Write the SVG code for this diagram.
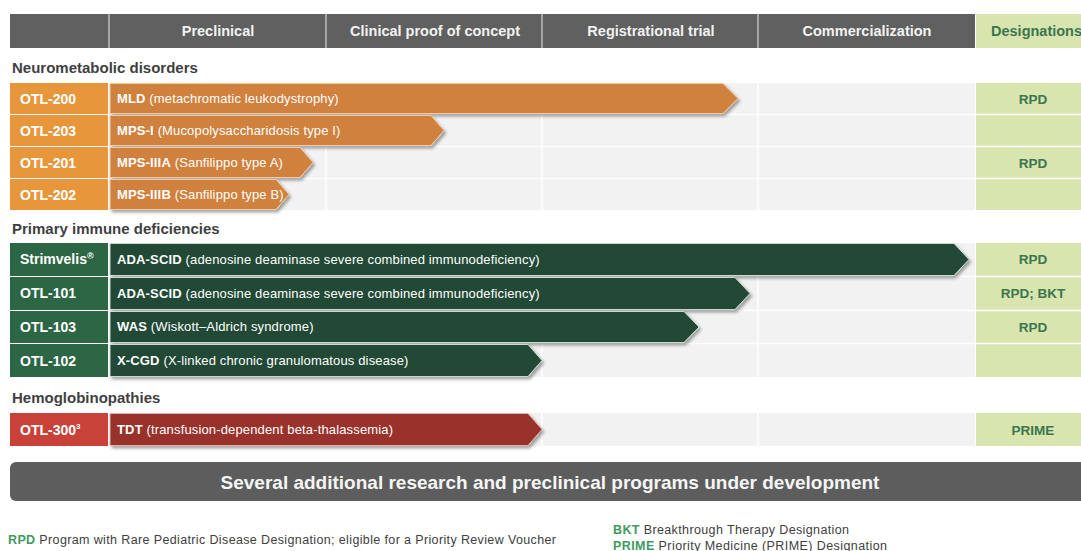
<svg xmlns="http://www.w3.org/2000/svg" width="1081" height="551" viewBox="0 0 1081 551">
<defs>
<style>
text{font-family:"Liberation Sans",Arial,sans-serif}
.hd{font-size:14.5px;font-weight:bold;fill:#f2f2f2;text-anchor:middle}
.sec{font-size:15px;font-weight:bold;fill:#3f3f3f}
.lbl{font-size:14px;font-weight:bold;fill:#ffffff}
.arr{font-size:13px;fill:#ffffff;letter-spacing:0.15px}
.arr .b{font-weight:bold}
.des{font-size:13.5px;font-weight:bold;fill:#3b7650;text-anchor:middle}
.foot{font-size:12.5px;fill:#404040}
.foot .g{fill:#3f9a5e;font-weight:bold}
.cell{fill:#f1f2f1}
.dcell{fill:#d8e5ae}
.vl{stroke:#ffffff;stroke-width:1.5}
.o-box{fill:#e8963b}
.o-arr{fill:#d0813e;stroke:#f3c9a2;stroke-width:1}
.g-box{fill:#2c6644}
.g-arr{fill:#214a35;stroke:#c9d9cd;stroke-width:1}
.r-box{fill:#c9423a}
.r-arr{fill:#993029;stroke:#e4b1ac;stroke-width:1}
</style>
<filter id="sh" x="-5%" y="-20%" width="110%" height="160%">
<feDropShadow dx="2" dy="2.5" stdDeviation="1.5" flood-color="#000" flood-opacity="0.35"/>
</filter>
</defs>
<rect width="1081" height="551" fill="#ffffff"/>

<!-- header -->
<g id="header">
<rect x="10" y="14" width="965" height="34" fill="#606060"/>
<rect x="976" y="14" width="105" height="34" fill="#d8e5ae"/>
<line x1="109" y1="14" x2="109" y2="48" class="vl" stroke-opacity="0.6"/>
<line x1="326" y1="14" x2="326" y2="48" class="vl" stroke-opacity="0.6"/>
<line x1="542" y1="14" x2="542" y2="48" class="vl" stroke-opacity="0.6"/>
<line x1="758" y1="14" x2="758" y2="48" class="vl" stroke-opacity="0.6"/>
<text x="218" y="36" class="hd">Preclinical</text>
<text x="435" y="36" class="hd">Clinical proof of concept</text>
<text x="651" y="36" class="hd">Registrational trial</text>
<text x="867" y="36" class="hd">Commercialization</text>
<text x="991" y="36" class="hd" style="fill:#3b7650;text-anchor:start">Designations</text>
</g>

<!-- grid backgrounds -->
<g id="grid">
<rect x="110" y="83" width="865" height="127" class="cell"/>
<rect x="976" y="83" width="105" height="127" class="dcell"/>
<rect x="110" y="243" width="865" height="134" class="cell"/>
<rect x="976" y="243" width="105" height="134" class="dcell"/>
<rect x="110" y="413" width="865" height="33" class="cell"/>
<rect x="976" y="413" width="105" height="33" class="dcell"/>
<g stroke="#ffffff" stroke-width="1.5">
<line x1="326" y1="83" x2="326" y2="210"/><line x1="542" y1="83" x2="542" y2="210"/><line x1="758" y1="83" x2="758" y2="210"/>
<line x1="326" y1="243" x2="326" y2="377"/><line x1="542" y1="243" x2="542" y2="377"/><line x1="758" y1="243" x2="758" y2="377"/>
<line x1="326" y1="413" x2="326" y2="446"/><line x1="542" y1="413" x2="542" y2="446"/><line x1="758" y1="413" x2="758" y2="446"/>
<line x1="10" y1="114.5" x2="1081" y2="114.5"/><line x1="10" y1="146.5" x2="1081" y2="146.5"/><line x1="10" y1="178.5" x2="1081" y2="178.5"/>
<line x1="10" y1="276.5" x2="1081" y2="276.5"/><line x1="10" y1="310.5" x2="1081" y2="310.5"/><line x1="10" y1="343.5" x2="1081" y2="343.5"/>
</g>
</g>

<text x="12" y="73" class="sec">Neurometabolic disorders</text>
<text x="12" y="234" class="sec">Primary immune deficiencies</text>
<text x="12" y="403" class="sec">Hemoglobinopathies</text>

<!-- Neurometabolic rows -->
<g id="otl200">
<rect x="10" y="83" width="98" height="31" class="o-box"/>
<text x="20" y="104" class="lbl">OTL-200</text>
<path d="M110,83.5 H723 L738,98.5 L723,113.5 H110 Z" class="o-arr" filter="url(#sh)"/>
<text x="117" y="103" class="arr"><tspan class="b">MLD</tspan> (metachromatic leukodystrophy)</text>
<text x="1033" y="104" class="des">RPD</text>
</g>
<g id="otl203">
<rect x="10" y="115" width="98" height="31" class="o-box"/>
<text x="20" y="136" class="lbl">OTL-203</text>
<path d="M110,115.5 H431 L444,130.5 L431,145.5 H110 Z" class="o-arr" filter="url(#sh)"/>
<text x="117" y="135" class="arr"><tspan class="b">MPS-I</tspan> (Mucopolysaccharidosis type I)</text>
</g>
<g id="otl201">
<rect x="10" y="147" width="98" height="31" class="o-box"/>
<text x="20" y="168" class="lbl">OTL-201</text>
<path d="M110,147.5 H300 L313,162.5 L300,177.5 H110 Z" class="o-arr" filter="url(#sh)"/>
<text x="117" y="167" class="arr"><tspan class="b">MPS-IIIA</tspan> (Sanfilippo type A)</text>
<text x="1033" y="168" class="des">RPD</text>
</g>
<g id="otl202">
<rect x="10" y="179" width="98" height="31" class="o-box"/>
<text x="20" y="200" class="lbl">OTL-202</text>
<path d="M110,179.5 H276 L289,194.5 L276,209.5 H110 Z" class="o-arr" filter="url(#sh)"/>
<text x="117" y="199" class="arr"><tspan class="b">MPS-IIIB</tspan> (Sanfilippo type B)</text>
</g>

<!-- Primary immune rows -->
<g id="strimvelis">
<rect x="10" y="243" width="98" height="33" class="g-box"/>
<text x="20" y="264" class="lbl">Strimvelis<tspan font-size="9" dy="-5">®</tspan></text>
<path d="M110,243.5 H954 L969,259.5 L954,275.5 H110 Z" class="g-arr" filter="url(#sh)"/>
<text x="117" y="264" class="arr"><tspan class="b">ADA-SCID</tspan> (adenosine deaminase severe combined immunodeficiency)</text>
<text x="1033" y="264" class="des">RPD</text>
</g>
<g id="otl101">
<rect x="10" y="277" width="98" height="33" class="g-box"/>
<text x="20" y="298" class="lbl">OTL-101</text>
<path d="M110,277.5 H735 L750,293.5 L735,309.5 H110 Z" class="g-arr" filter="url(#sh)"/>
<text x="117" y="298" class="arr"><tspan class="b">ADA-SCID</tspan> (adenosine deaminase severe combined immunodeficiency)</text>
<text x="1033" y="298" class="des">RPD; BKT</text>
</g>
<g id="otl103">
<rect x="10" y="311" width="98" height="32" class="g-box"/>
<text x="20" y="332" class="lbl">OTL-103</text>
<path d="M110,311.5 H684 L699,327 L684,342.5 H110 Z" class="g-arr" filter="url(#sh)"/>
<text x="117" y="331" class="arr"><tspan class="b">WAS</tspan> (Wiskott–Aldrich syndrome)</text>
<text x="1033" y="332" class="des">RPD</text>
</g>
<g id="otl102">
<rect x="10" y="344" width="98" height="33" class="g-box"/>
<text x="20" y="366" class="lbl">OTL-102</text>
<path d="M110,344.5 H528 L542,360.5 L528,376.5 H110 Z" class="g-arr" filter="url(#sh)"/>
<text x="117" y="365" class="arr"><tspan class="b">X-CGD</tspan> (X-linked chronic granulomatous disease)</text>
</g>

<!-- Hemoglobinopathies -->
<g id="otl300">
<rect x="10" y="413" width="98" height="33" class="r-box"/>
<text x="20" y="435" class="lbl">OTL-300<tspan font-size="8" dy="-6">3</tspan></text>
<path d="M110,413.5 H528 L542,429.5 L528,445.5 H110 Z" class="r-arr" filter="url(#sh)"/>
<text x="117" y="434" class="arr"><tspan class="b">TDT</tspan> (transfusion-dependent beta-thalassemia)</text>
<text x="1033" y="435" class="des">PRIME</text>
</g>

<!-- banner -->
<g id="banner">
<rect x="10" y="462" width="1080" height="39" rx="6" fill="#5d5d5d"/>
<text x="550" y="489" font-size="19" font-weight="bold" fill="#f5f5f5" text-anchor="middle">Several additional research and preclinical programs under development</text>
</g>

<!-- footer -->
<g id="legend">
<text x="8" y="544" class="foot" textLength="548"><tspan class="g">RPD</tspan> Program with Rare Pediatric Disease Designation; eligible for a Priority Review Voucher</text>
<text x="613" y="534" class="foot" textLength="236"><tspan class="g">BKT</tspan> Breakthrough Therapy Designation</text>
<text x="613" y="550" class="foot" textLength="274"><tspan class="g">PRIME</tspan> Priority Medicine (PRIME) Designation</text>
</g>
</svg>
